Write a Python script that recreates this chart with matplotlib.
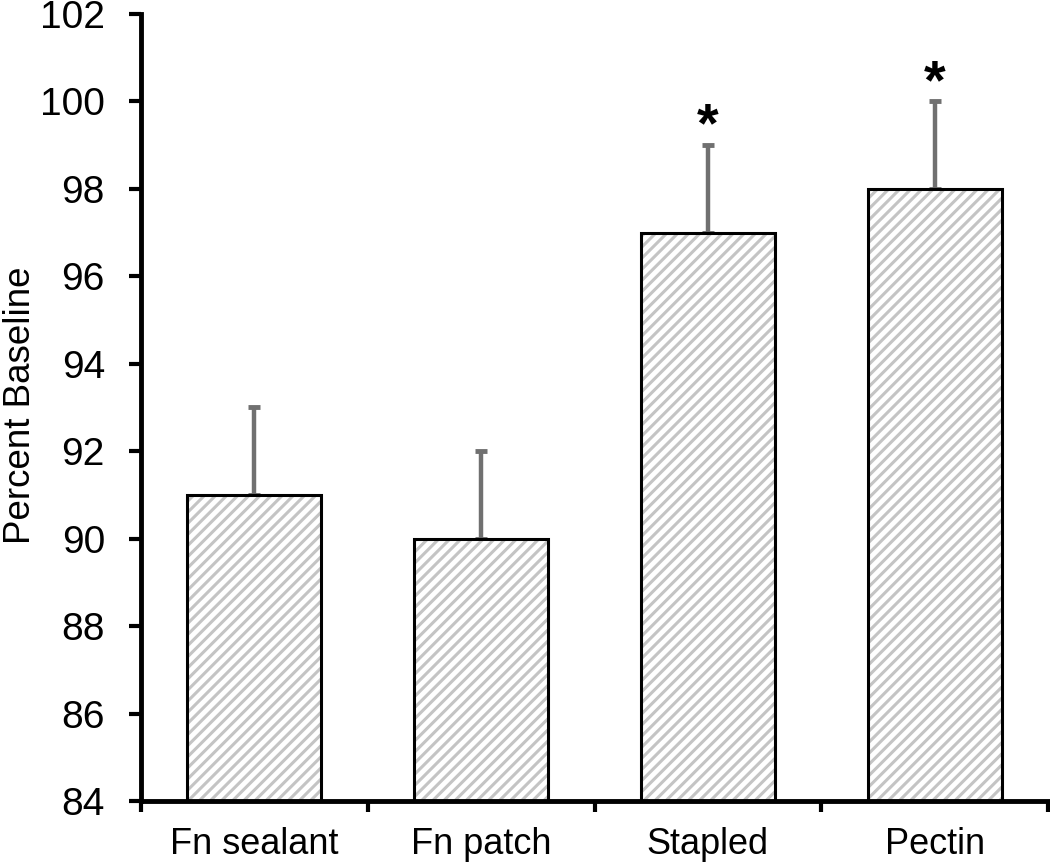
import matplotlib
matplotlib.use("Agg")
import matplotlib.pyplot as plt
import numpy as np

categories = ["Fn sealant", "Fn patch", "Stapled", "Pectin"]
values = [91, 90, 97, 98]
errors = [2, 2, 2, 2]
significant = [False, False, True, True]
yticks = [84, 86, 88, 90, 92, 94, 96, 98, 100, 102]

plt.rcParams['font.family'] = ['Liberation Sans', 'DejaVu Sans']
plt.rcParams['hatch.linewidth'] = 2.2
plt.rcParams['hatch.color'] = '#c4c4c4'

fig = plt.figure(figsize=(10.5, 8.63), dpi=100)
ax = fig.add_axes([141/1050, 1 - 801/863, (1048-141)/1050, (801-14)/863])

x = np.arange(len(categories))
width = 0.59
ax.bar(x, values, width=width, bottom=0, color='white', edgecolor='#c4c4c4',
       hatch='///', linewidth=0, zorder=2)
ax.bar(x, values, width=width, bottom=0, color='none', edgecolor='black',
       linewidth=2.2, zorder=3)
ax.errorbar(x, values, yerr=[np.zeros(len(errors)), errors], fmt='none',
            ecolor='#707070', elinewidth=3.2, capsize=4.5, capthick=3.5, zorder=1)

for xi, v, e, s in zip(x, values, errors, significant):
    if s:
        ax.text(xi, v + e + 0.08, '*', ha='center', va='baseline', fontsize=40,
                fontweight='bold')

ax.set_ylim(84, 102)
ax.set_xlim(-0.5, 3.5)
ax.set_yticks(yticks)
ax.set_yticklabels([str(t) for t in yticks], fontsize=28)
ax.set_xticks(np.arange(-0.5, 3.6, 1.0), minor=False)
ax.set_xticklabels([])
ax.set_xticks(x, minor=True)
ax.set_xticklabels(categories, minor=True, fontsize=26)
ax.tick_params(axis='x', which='minor', length=0, pad=19)
ax.tick_params(axis='x', which='major', length=8, width=3, direction='out')
ax.tick_params(axis='y', length=9, width=3, direction='out', pad=17)
for sp in ['top', 'right']:
    ax.spines[sp].set_visible(False)
ax.spines['left'].set_linewidth(3.5)
ax.spines['bottom'].set_linewidth(3.5)
fig.text(21/1050, 1 - 405/863, 'Percent Baseline', fontsize=26.5, rotation=90,
         ha='center', va='center')

fig.savefig('out.png', dpi=100)
